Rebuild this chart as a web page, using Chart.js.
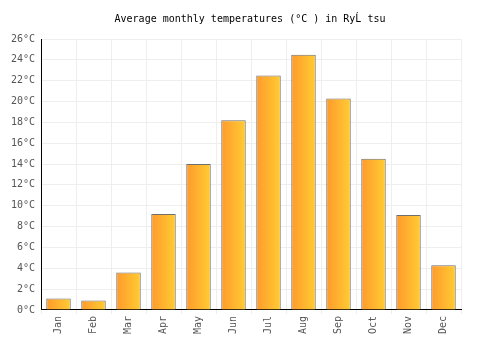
<!DOCTYPE html>
<html>
<head>
<meta charset="utf-8">
<script src="https://cdn.jsdelivr.net/npm/chart.js@4/dist/chart.umd.min.js"></script>
<style>
  html, body { margin: 0; padding: 0; background: #fff; }
  #wrap { width: 500px; height: 350px; }
</style>
</head>
<body>
<div id="wrap"><canvas id="myChart" width="500" height="350"></canvas></div>
<script>
const months = ['Jan','Feb','Mar','Apr','May','Jun','Jul','Aug','Sep','Oct','Nov','Dec'];
const temps = [1.1, 0.9, 3.6, 9.2, 14.0, 18.2, 22.5, 24.5, 20.3, 14.5, 9.1, 4.3];
const yTicks = [0,2,4,6,8,10,12,14,16,18,20,22,24,26];

const mono = "'DejaVu Sans Mono', monospace";

function barFill(c) {
  const chart = c.chart;
  const xs = chart.scales && chart.scales.x;
  if (!xs || !chart.chartArea) return '#ffae30';
  const cx = xs.getPixelForValue(c.dataIndex);
  const half = (chart.chartArea.width / months.length) * 0.7 / 2;
  const g = chart.ctx.createLinearGradient(cx - half, 0, cx + half, 0);
  g.addColorStop(0, '#ff9a2c');
  g.addColorStop(1, '#ffcc33');
  return g;
}

new Chart(document.getElementById('myChart'), {
  type: 'bar',
  data: {
    labels: months,
    datasets: [{
      data: temps,
      backgroundColor: barFill,
      borderColor: '#6f6f6f',
      borderWidth: 1,
      categoryPercentage: 0.7,
      barPercentage: 1.0
    }]
  },
  options: {
    responsive: false,
    animation: false,
    layout: { padding: { left: 0, right: 0, top: 0, bottom: 14 } },
    plugins: {
      legend: { display: false },
      tooltip: { enabled: false },
      title: {
        display: true,
        text: 'Average monthly temperatures (°C ) in RyĹ tsu',
        color: '#000',
        font: { family: mono, size: 10, weight: 'normal' },
        padding: { top: 13, bottom: 14 }
      }
    },
    scales: {
      x: {
        grid: { color: '#eeeeee', offset: true, drawTicks: true, tickLength: 4 },
        border: { color: '#000', width: 1 },
        ticks: {
          color: '#555',
          font: { family: mono, size: 10 },
          maxRotation: 90,
          minRotation: 90,
          padding: 2
        }
      },
      y: {
        min: 0,
        max: 26,
        afterBuildTicks: axis => { axis.ticks = yTicks.map(v => ({ value: v })); },
        afterFit: axis => { axis.width = 41; },
        grid: { color: '#eeeeee', drawTicks: false },
        border: { color: '#000', width: 1 },
        ticks: {
          color: '#555',
          font: { family: mono, size: 10 },
          padding: 6,
          callback: v => v + '°C'
        }
      },
      // empty right axis, only keeps the gap on the right side
      yRight: {
        position: 'right',
        min: 0,
        max: 26,
        afterFit: axis => { axis.width = 39; },
        grid: { display: false },
        border: { display: false },
        ticks: { display: false }
      }
    }
  }
});
</script>
</body>
</html>
